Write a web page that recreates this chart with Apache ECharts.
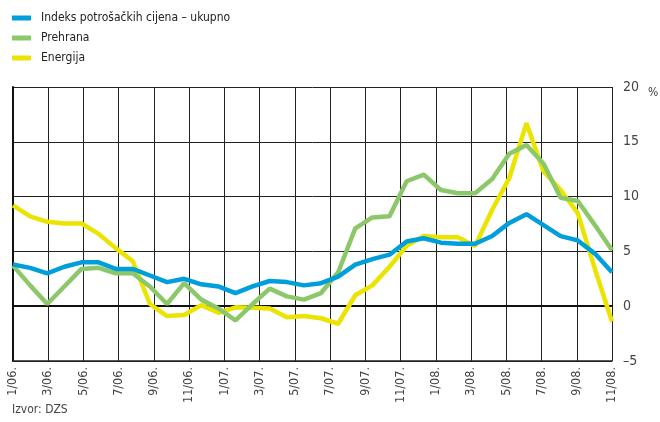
<!DOCTYPE html>
<html>
<head>
<meta charset="utf-8">
<script src="https://cdn.jsdelivr.net/npm/echarts@6/dist/echarts.min.js"></script>
<style>
  html, body { margin: 0; padding: 0; background: #fff; }
  #chart { width: 660px; height: 422px; }
</style>
</head>
<body>
<div id="chart"></div>
<script>
// monthly points (36 of them, the last one is 11/08.)
var months = ['12/05.', '1/06.', '2/06.', '3/06.', '4/06.', '5/06.', '6/06.', '7/06.', '8/06.', '9/06.', '10/06.', '11/06.',
    '12/06.', '1/07.', '2/07.', '3/07.', '4/07.', '5/07.', '6/07.', '7/07.', '8/07.', '9/07.', '10/07.', '11/07.',
    '12/07.', '1/08.', '2/08.', '3/08.', '4/08.', '5/08.', '6/08.', '7/08.', '8/08.', '9/08.', '10/08.', '11/08.'];

// tick labels under the grid (every second month)
var tickLabels = ['1/06.', '3/06.', '5/06.', '7/06.', '9/06.', '11/06.', '1/07.', '3/07.', '5/07.',
    '7/07.', '9/07.', '11/07.', '1/08.', '3/08.', '5/08.', '7/08.', '9/08.', '11/08.'];

var ukupno = [3.8, 3.5, 3.0, 3.6, 4.0, 4.0, 3.4, 3.4, 2.8, 2.2, 2.5, 2.0,
    1.8, 1.2, 1.8, 2.3, 2.2, 1.9, 2.1, 2.7, 3.8, 4.3, 4.7, 5.9,
    6.2, 5.8, 5.7, 5.7, 6.4, 7.6, 8.4, 7.4, 6.4, 6.0, 4.8, 3.1];

var prehrana = [3.7, 1.9, 0.2, 1.8, 3.4, 3.5, 3.0, 3.0, 1.8, 0.2, 2.1, 0.6,
    -0.2, -1.3, 0.2, 1.6, 0.9, 0.6, 1.2, 3.1, 7.1, 8.1, 8.2, 11.4,
    12.0, 10.6, 10.3, 10.3, 11.6, 13.9, 14.7, 13.0, 9.9, 9.6, 7.4, 5.1];

var energija = [9.2, 8.2, 7.7, 7.55, 7.55, 6.6, 5.3, 4.1, 0.2, -0.9, -0.8, 0.1,
    -0.6, -0.1, -0.15, -0.2, -1.0, -0.9, -1.1, -1.6, 1.0, 1.9, 3.6, 5.5,
    6.4, 6.3, 6.3, 5.5, 8.8, 11.7, 16.7, 12.3, 10.6, 8.5, 3.4, -1.4];

var yTicks = [-5, 0, 5, 10, 15, 20];

var narrow = '"Liberation Sans Narrow", "DejaVu Sans Condensed", "Roboto", sans-serif';
var gridColor = '#222';

var chartDom = document.getElementById('chart');
var myChart = echarts.init(chartDom);

var option = {
    animation: false,
    textStyle: { fontFamily: narrow },
    legend: {
        orient: 'vertical',
        left: 7,
        top: 7,
        itemWidth: 19,
        itemHeight: 5,
        itemGap: 8,
        icon: 'rect',
        data: ['Indeks potrošačkih cijena – ukupno', 'Prehrana', 'Energija'],
        textStyle: { fontFamily: narrow, fontSize: 12, color: '#222', padding: [0, 0, 0, 5] }
    },
    grid: { left: 13, right: 48, top: 87, bottom: 61 },
    xAxis: [
        {
            // data axis; only its line is shown, sitting on zero
            type: 'category',
            data: months,
            boundaryGap: false,
            axisLine: { show: true, onZero: true, lineStyle: { color: '#111', width: 2 } },
            axisTick: { show: false },
            axisLabel: { show: false },
            splitLine: { show: false }
        },
        {
            type: 'value',
            min: 0,
            max: (tickLabels.length - 1) * 2,
            interval: 2,
            position: 'bottom',
            axisLine: { show: true, onZero: false, lineStyle: { color: gridColor, width: 1.5 } },
            axisTick: { show: false },
            axisLabel: {
                rotate: 90,
                margin: 6,
                fontSize: 12.5,
                color: '#444',
                fontFamily: narrow,
                formatter: function (v) { return tickLabels[Math.round(v / 2)] || ''; }
            },
            splitLine: { show: true, lineStyle: { color: gridColor, width: 1 } }
        }
    ],
    yAxis: {
        type: 'value',
        position: 'right',
        min: yTicks[0],
        max: yTicks[yTicks.length - 1],
        interval: 5,
        axisLine: { show: true, lineStyle: { color: '#111', width: 2 } },
        axisTick: { show: false },
        axisLabel: {
            margin: 11,
            fontSize: 14,
            color: '#444',
            fontFamily: narrow,
            formatter: function (v) { return v < 0 ? '–' + Math.abs(v) : String(v); }
        },
        splitLine: { show: true, lineStyle: { color: gridColor, width: 1 } }
    },
    graphic: [
        { type: 'text', left: 648, top: 87, style: { text: '%', font: '12px ' + narrow, fill: '#444' } },
        { type: 'text', left: 12, top: 404, style: { text: 'Izvor: DZS', font: '12px ' + narrow, fill: '#444' } }
    ],
    series: [
        {
            name: 'Energija',
            type: 'line',
            data: energija,
            xAxisIndex: 0,
            showSymbol: false,
            lineStyle: { width: 4.5, color: '#ebe300' },
            itemStyle: { color: '#ebe300' }
        },
        {
            name: 'Prehrana',
            type: 'line',
            data: prehrana,
            xAxisIndex: 0,
            showSymbol: false,
            lineStyle: { width: 4.5, color: '#8cc86a' },
            itemStyle: { color: '#8cc86a' }
        },
        {
            name: 'Indeks potrošačkih cijena – ukupno',
            type: 'line',
            data: ukupno,
            xAxisIndex: 0,
            showSymbol: false,
            lineStyle: { width: 4.5, color: '#009fdb' },
            itemStyle: { color: '#009fdb' }
        }
    ]
};

myChart.setOption(option);
</script>
</body>
</html>
